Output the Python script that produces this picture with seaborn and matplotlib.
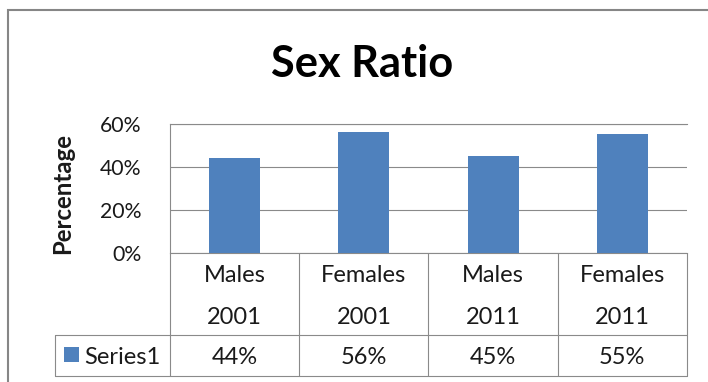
import matplotlib
matplotlib.use("Agg")
import matplotlib.pyplot as plt
import seaborn as sns
import pandas as pd
from matplotlib.lines import Line2D
from matplotlib.patches import Rectangle
from matplotlib.ticker import PercentFormatter
from matplotlib.transforms import blended_transform_factory

# Census sex ratio shares (percent of population)
groups = ["Males", "Females", "Males", "Females"]
years = ["2001", "2001", "2011", "2011"]
shares = [44, 56, 45, 55]
series_name = "Series1"
y_ticks = [0, 20, 40, 60]
title = "Sex Ratio"
y_label = "Percentage"

W, H, DPI = 708, 382, 100
BAR = "#4F81BD"
GRID = "#8a8a8a"
TEXT = "#1a1a1a"
TABLE_FS = 17

sns.set_theme(style="white")
plt.rcParams["font.family"] = ["Lato", "DejaVu Sans"]

fig = plt.figure(figsize=(W / DPI, H / DPI), dpi=DPI)
fig.patch.set_facecolor("white")


def fx(px):
    return px / W


def fy(py):
    return 1 - py / H


# plot area in pixel terms
P_L, P_R, P_T, P_B = 170, 687, 123.5, 252.7
ax = fig.add_axes([fx(P_L), fy(P_B), fx(P_R) - fx(P_L), fy(P_T) - fy(P_B)])

df = pd.DataFrame({"category": [f"{g} {y}" for g, y in zip(groups, years)],
                   "share": shares})
sns.barplot(data=df, x="category", y="share", color=BAR, saturation=1,
            width=0.395, edgecolor="none", ax=ax, zorder=3)

ax.set_xlim(-0.5, len(shares) - 0.5)
ax.set_ylim(0, y_ticks[-1])
ax.set_yticks(y_ticks)
ax.yaxis.set_major_formatter(PercentFormatter(decimals=0))
ax.set_xticks([])
ax.set_xlabel("")
ax.tick_params(axis="y", length=0, pad=20.5, labelsize=15.3, labelcolor=TEXT)
ax.yaxis.grid(True, color=GRID, linewidth=0.8)
ax.set_axisbelow(True)
for side in ("left", "top", "bottom"):
    ax.spines[side].set_visible(True)
    ax.spines[side].set_color(GRID)
    ax.spines[side].set_linewidth(0.8)
ax.spines["right"].set_visible(False)

ax.set_ylabel(y_label, fontsize=17.3, fontweight="bold", color=TEXT)
ax.yaxis.set_label_coords((63 - P_L) / (P_R - P_L), (P_B - 193) / (P_B - P_T))
ax.yaxis.label.set(ha="center", va="center")

# data table beneath the plot area
tr = blended_transform_factory(ax.transData, fig.transFigure)
tr_ax = blended_transform_factory(ax.transAxes, fig.transFigure)
ROW1, ROW2 = 335, 375.7
TBL_L = (55 - P_L) / (P_R - P_L)
line_kw = dict(color=GRID, linewidth=0.8, clip_on=False)

for yb in (ROW1, ROW2):
    fig.add_artist(Line2D([TBL_L, 1], [fy(yb), fy(yb)], transform=tr_ax, **line_kw))
fig.add_artist(Line2D([TBL_L, TBL_L], [fy(ROW1), fy(ROW2)], transform=tr_ax, **line_kw))
for i in range(len(shares) + 1):
    xb = i - 0.5
    fig.add_artist(Line2D([xb, xb], [fy(P_B), fy(ROW2)], transform=tr, **line_kw))

for i, (g, yr, v) in enumerate(zip(groups, years, shares)):
    fig.text(i, fy(281.7), g, transform=tr, ha="center", va="baseline",
             fontsize=TABLE_FS, color=TEXT)
    fig.text(i, fy(324), yr, transform=tr, ha="center", va="baseline",
             fontsize=TABLE_FS, color=TEXT)
    fig.text(i, fy(364), f"{v}%", transform=tr, ha="center", va="baseline",
             fontsize=TABLE_FS, color=TEXT)

fig.add_artist(Rectangle((fx(64), fy(362)), fx(15), fy(347) - fy(362),
                         transform=fig.transFigure, facecolor=BAR, edgecolor="none"))
fig.text(fx(84), fy(364), series_name, ha="left", va="baseline",
         fontsize=TABLE_FS, color=TEXT)

# title and chart frame
fig.text(fx(362), fy(76.7), title, ha="center", va="baseline",
         fontsize=31.2, fontweight="bold", color="black")
fig.add_artist(Rectangle((fx(7.5), fy(H + 20)), 1.2, fy(10) - fy(H + 20),
                         transform=fig.transFigure, facecolor="none",
                         edgecolor="#868686", linewidth=1.5))

fig.savefig("out.png", dpi=DPI, facecolor="white")
